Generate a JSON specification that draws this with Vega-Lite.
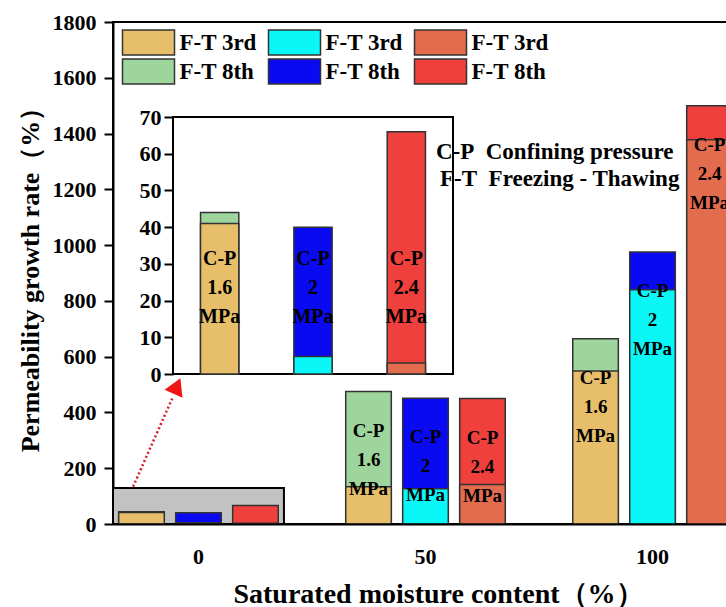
{
  "$schema": "https://vega.github.io/schema/vega-lite/v6.json",
  "autosize": "none",
  "padding": {"left": 113, "top": 22, "right": 0, "bottom": 83},
  "width": 625,
  "height": 502,
  "background": "white",
  "config": {
    "view": {"stroke": "black", "strokeWidth": 2},
    "font": "Liberation Serif",
    "axis": {
      "labelFont": "Liberation Serif", "labelFontWeight": "bold", "labelColor": "black",
      "titleFont": "Liberation Serif", "titleFontWeight": "bold", "titleColor": "black",
      "domainColor": "black", "domainWidth": 2, "tickColor": "black", "tickWidth": 2, "grid": false
    }
  },
  "datasets": {
    "bars": [
      {"moisture": "0", "pressure": "1.6", "cycle": "3rd", "series": "3rd-1.6", "value": 41, "label": ""},
      {"moisture": "0", "pressure": "1.6", "cycle": "8th", "series": "8th-1.6", "value": 44, "label": "C-P\n1.6\nMPa"},
      {"moisture": "0", "pressure": "2", "cycle": "3rd", "series": "3rd-2", "value": 4.8, "label": ""},
      {"moisture": "0", "pressure": "2", "cycle": "8th", "series": "8th-2", "value": 40, "label": "C-P\n2\nMPa"},
      {"moisture": "0", "pressure": "2.4", "cycle": "3rd", "series": "3rd-2.4", "value": 3, "label": ""},
      {"moisture": "0", "pressure": "2.4", "cycle": "8th", "series": "8th-2.4", "value": 66, "label": "C-P\n2.4\nMPa"},
      {"moisture": "50", "pressure": "1.6", "cycle": "3rd", "series": "3rd-1.6", "value": 134, "label": ""},
      {"moisture": "50", "pressure": "1.6", "cycle": "8th", "series": "8th-1.6", "value": 475, "label": "C-P\n1.6\nMPa"},
      {"moisture": "50", "pressure": "2", "cycle": "3rd", "series": "3rd-2", "value": 126, "label": ""},
      {"moisture": "50", "pressure": "2", "cycle": "8th", "series": "8th-2", "value": 451, "label": "C-P\n2\nMPa"},
      {"moisture": "50", "pressure": "2.4", "cycle": "3rd", "series": "3rd-2.4", "value": 142, "label": ""},
      {"moisture": "50", "pressure": "2.4", "cycle": "8th", "series": "8th-2.4", "value": 450, "label": "C-P\n2.4\nMPa"},
      {"moisture": "100", "pressure": "1.6", "cycle": "3rd", "series": "3rd-1.6", "value": 549, "label": ""},
      {"moisture": "100", "pressure": "1.6", "cycle": "8th", "series": "8th-1.6", "value": 664, "label": "C-P\n1.6\nMPa"},
      {"moisture": "100", "pressure": "2", "cycle": "3rd", "series": "3rd-2", "value": 840, "label": ""},
      {"moisture": "100", "pressure": "2", "cycle": "8th", "series": "8th-2", "value": 975, "label": "C-P\n2\nMPa"},
      {"moisture": "100", "pressure": "2.4", "cycle": "3rd", "series": "3rd-2.4", "value": 1378, "label": ""},
      {"moisture": "100", "pressure": "2.4", "cycle": "8th", "series": "8th-2.4", "value": 1500, "label": "C-P\n2.4\nMPa"}
    ],
    "highlight": [{"moisture": "0", "low": 0, "high": 129}],
    "arrow": [{"m": -14.4, "v": 134}, {"m": -5.6, "v": 457}],
    "tip": [{"m": -4.74, "v": 495}],
    "notes": [
      {"m": 52.3, "v": 1333, "note": "C-P\u00a0\u00a0Confining pressure"},
      {"m": 53.2, "v": 1238, "note": "F-T\u00a0\u00a0Freezing - Thawing"}
    ]
  },
  "layer": [
    {
      "encoding": {
        "x": {
          "field": "moisture", "type": "nominal", "sort": ["0", "50", "100"],
          "scale": {"domain": ["0", "50", "100"], "paddingInner": 0.247, "paddingOuter": 0},
          "axis": {"title": "Saturated moisture content（%）", "labelAngle": 0, "ticks": false, "labelPadding": 22, "labelFontSize": 22, "titleFontSize": 28, "titlePadding": 13, "titleX": 325}
        }
      },
      "layer": [
        {
          "data": {"name": "highlight"},
          "mark": {"type": "rect", "fill": "#C2C2C2", "stroke": "black", "strokeWidth": 2},
          "encoding": {
            "y": {"field": "low", "type": "quantitative", "scale": {"domain": [0, 1800], "nice": false},
              "axis": {"title": "Permeability growth rate（%）", "format": "d", "values": [0, 200, 400, 600, 800, 1000, 1200, 1400, 1600, 1800], "tickSize": 9, "labelPadding": 8, "labelFontSize": 22, "titleFontSize": 26, "titlePadding": 9}},
            "y2": {"field": "high"}
          }
        },
        {
          "data": {"name": "bars"},
          "transform": [{"filter": "datum.cycle == '8th'"}],
          "mark": {"type": "bar", "stroke": "#333333", "strokeWidth": 1.5},
          "encoding": {
            "xOffset": {"field": "pressure", "type": "nominal", "scale": {"domain": ["1.6", "2", "2.4"], "paddingInner": 0.2, "paddingOuter": 0.1}},
            "y": {"field": "value", "type": "quantitative", "stack": null},
            "color": {
              "field": "series", "type": "nominal",
              "scale": {"domain": ["3rd-1.6", "3rd-2", "3rd-2.4", "8th-1.6", "8th-2", "8th-2.4"],
                        "range": ["#E7BF6A", "#0AF7F7", "#E36B4E", "#9ED59C", "#0A0AF2", "#EF403D"]},
              "legend": {
                "orient": "none", "legendX": 22, "legendY": 7, "columns": 3, "direction": "horizontal", "title": null,
                "symbolType": "M-2.08,-1H2.08V1H-2.08Z", "symbolSize": 625,
                "symbolStrokeColor": "#333333", "symbolStrokeWidth": 1.5, "symbolOpacity": 1,
                "labelFontSize": 23, "labelFont": "Liberation Serif", "labelFontWeight": "bold", "labelColor": "black",
                "labelOffset": 17.5, "columnPadding": 8, "rowPadding": -2, "padding": 0, "labelLimit": 0,
                "labelExpr": "'F-T ' + slice(datum.label, 0, 3)"
              }
            }
          }
        },
        {
          "data": {"name": "bars"},
          "transform": [{"filter": "datum.cycle == '3rd'"}],
          "mark": {"type": "bar", "stroke": "#333333", "strokeWidth": 1.5},
          "encoding": {
            "xOffset": {"field": "pressure", "type": "nominal"},
            "y": {"field": "value", "type": "quantitative", "stack": null},
            "color": {"field": "series", "type": "nominal"}
          }
        },
        {
          "data": {"name": "bars"},
          "transform": [{"filter": "datum.cycle == '8th' && datum.moisture != '0'"}],
          "mark": {"type": "text", "baseline": "top", "dy": 30, "fontSize": 19, "fontWeight": "bold", "font": "Liberation Serif", "lineHeight": 29, "lineBreak": "\n", "color": "black"},
          "encoding": {
            "xOffset": {"field": "pressure", "type": "nominal"},
            "y": {"field": "value", "type": "quantitative"},
            "text": {"field": "label"}
          }
        }
      ]
    },
    {
      "layer": [
        {
          "data": {"values": [{"frame": "inset"}]},
          "mark": {"type": "rect", "fill": "white", "stroke": "black", "strokeWidth": 2},
          "encoding": {
            "x": {"datum": 0, "type": "quantitative", "scale": {"domain": [0, 1], "range": [60, 340]}, "axis": null},
            "x2": {"datum": 1},
            "y": {"datum": 0, "type": "quantitative", "scale": {"domain": [0, 70], "range": [352, 95], "nice": false},
              "axis": {"orient": "left", "offset": -60, "title": null, "values": [0, 10, 20, 30, 40, 50, 60, 70], "tickSize": 9, "labelPadding": 3, "labelFontSize": 22}},
            "y2": {"datum": 70}
          }
        },
        {
          "encoding": {
            "x": {"field": "pressure", "type": "nominal", "scale": {"domain": ["1.6", "2", "2.4"], "range": [60, 340], "paddingInner": 0.59, "paddingOuter": 0.295}, "axis": null}
          },
          "layer": [
            {
              "data": {"name": "bars"},
              "transform": [{"filter": "datum.moisture == '0' && datum.cycle == '8th'"}],
              "mark": {"type": "bar", "stroke": "#333333", "strokeWidth": 1.5},
              "encoding": {
                "y": {"field": "value", "type": "quantitative", "stack": null},
                "color": {"field": "series", "type": "nominal"}
              }
            },
            {
              "data": {"name": "bars"},
              "transform": [{"filter": "datum.moisture == '0' && datum.cycle == '3rd'"}],
              "mark": {"type": "bar", "stroke": "#333333", "strokeWidth": 1.5},
              "encoding": {
                "y": {"field": "value", "type": "quantitative", "stack": null},
                "color": {"field": "series", "type": "nominal"}
              }
            },
            {
              "data": {"name": "bars"},
              "transform": [{"filter": "datum.moisture == '0' && datum.cycle == '8th'"}],
              "mark": {"type": "text", "baseline": "top", "fontSize": 20, "fontWeight": "bold", "font": "Liberation Serif", "lineHeight": 29, "lineBreak": "\n", "color": "black"},
              "encoding": {
                "y": {"datum": 34, "type": "quantitative"},
                "text": {"field": "label"}
              }
            }
          ]
        }
      ],
      "resolve": {"scale": {"x": "independent"}}
    },
    {
      "layer": [
        {
          "data": {"name": "arrow"},
          "mark": {"type": "line", "color": "#D81A1E", "strokeWidth": 2.5, "strokeDash": [2, 2.5]},
          "encoding": {
            "x": {"field": "m", "type": "quantitative", "scale": {"domain": [-18.83, 118.83], "nice": false, "zero": false}, "axis": null},
            "y": {"field": "v", "type": "quantitative", "scale": {"domain": [0, 1800], "nice": false}, "axis": null},
            "order": {"field": "m"}
          }
        },
        {
          "data": {"name": "tip"},
          "mark": {"type": "point", "shape": "triangle-up", "filled": true, "color": "#F01414", "size": 380, "angle": 24, "opacity": 1},
          "encoding": {
            "x": {"field": "m", "type": "quantitative", "axis": null},
            "y": {"field": "v", "type": "quantitative", "axis": null}
          }
        },
        {
          "data": {"name": "notes"},
          "mark": {"type": "text", "align": "left", "baseline": "middle", "fontSize": 23, "fontWeight": "bold", "font": "Liberation Serif", "color": "black"},
          "encoding": {
            "x": {"field": "m", "type": "quantitative", "axis": null},
            "y": {"field": "v", "type": "quantitative", "axis": null},
            "text": {"field": "note"}
          }
        }
      ]
    }
  ],
  "resolve": {"scale": {"x": "independent", "y": "independent"}}
}
